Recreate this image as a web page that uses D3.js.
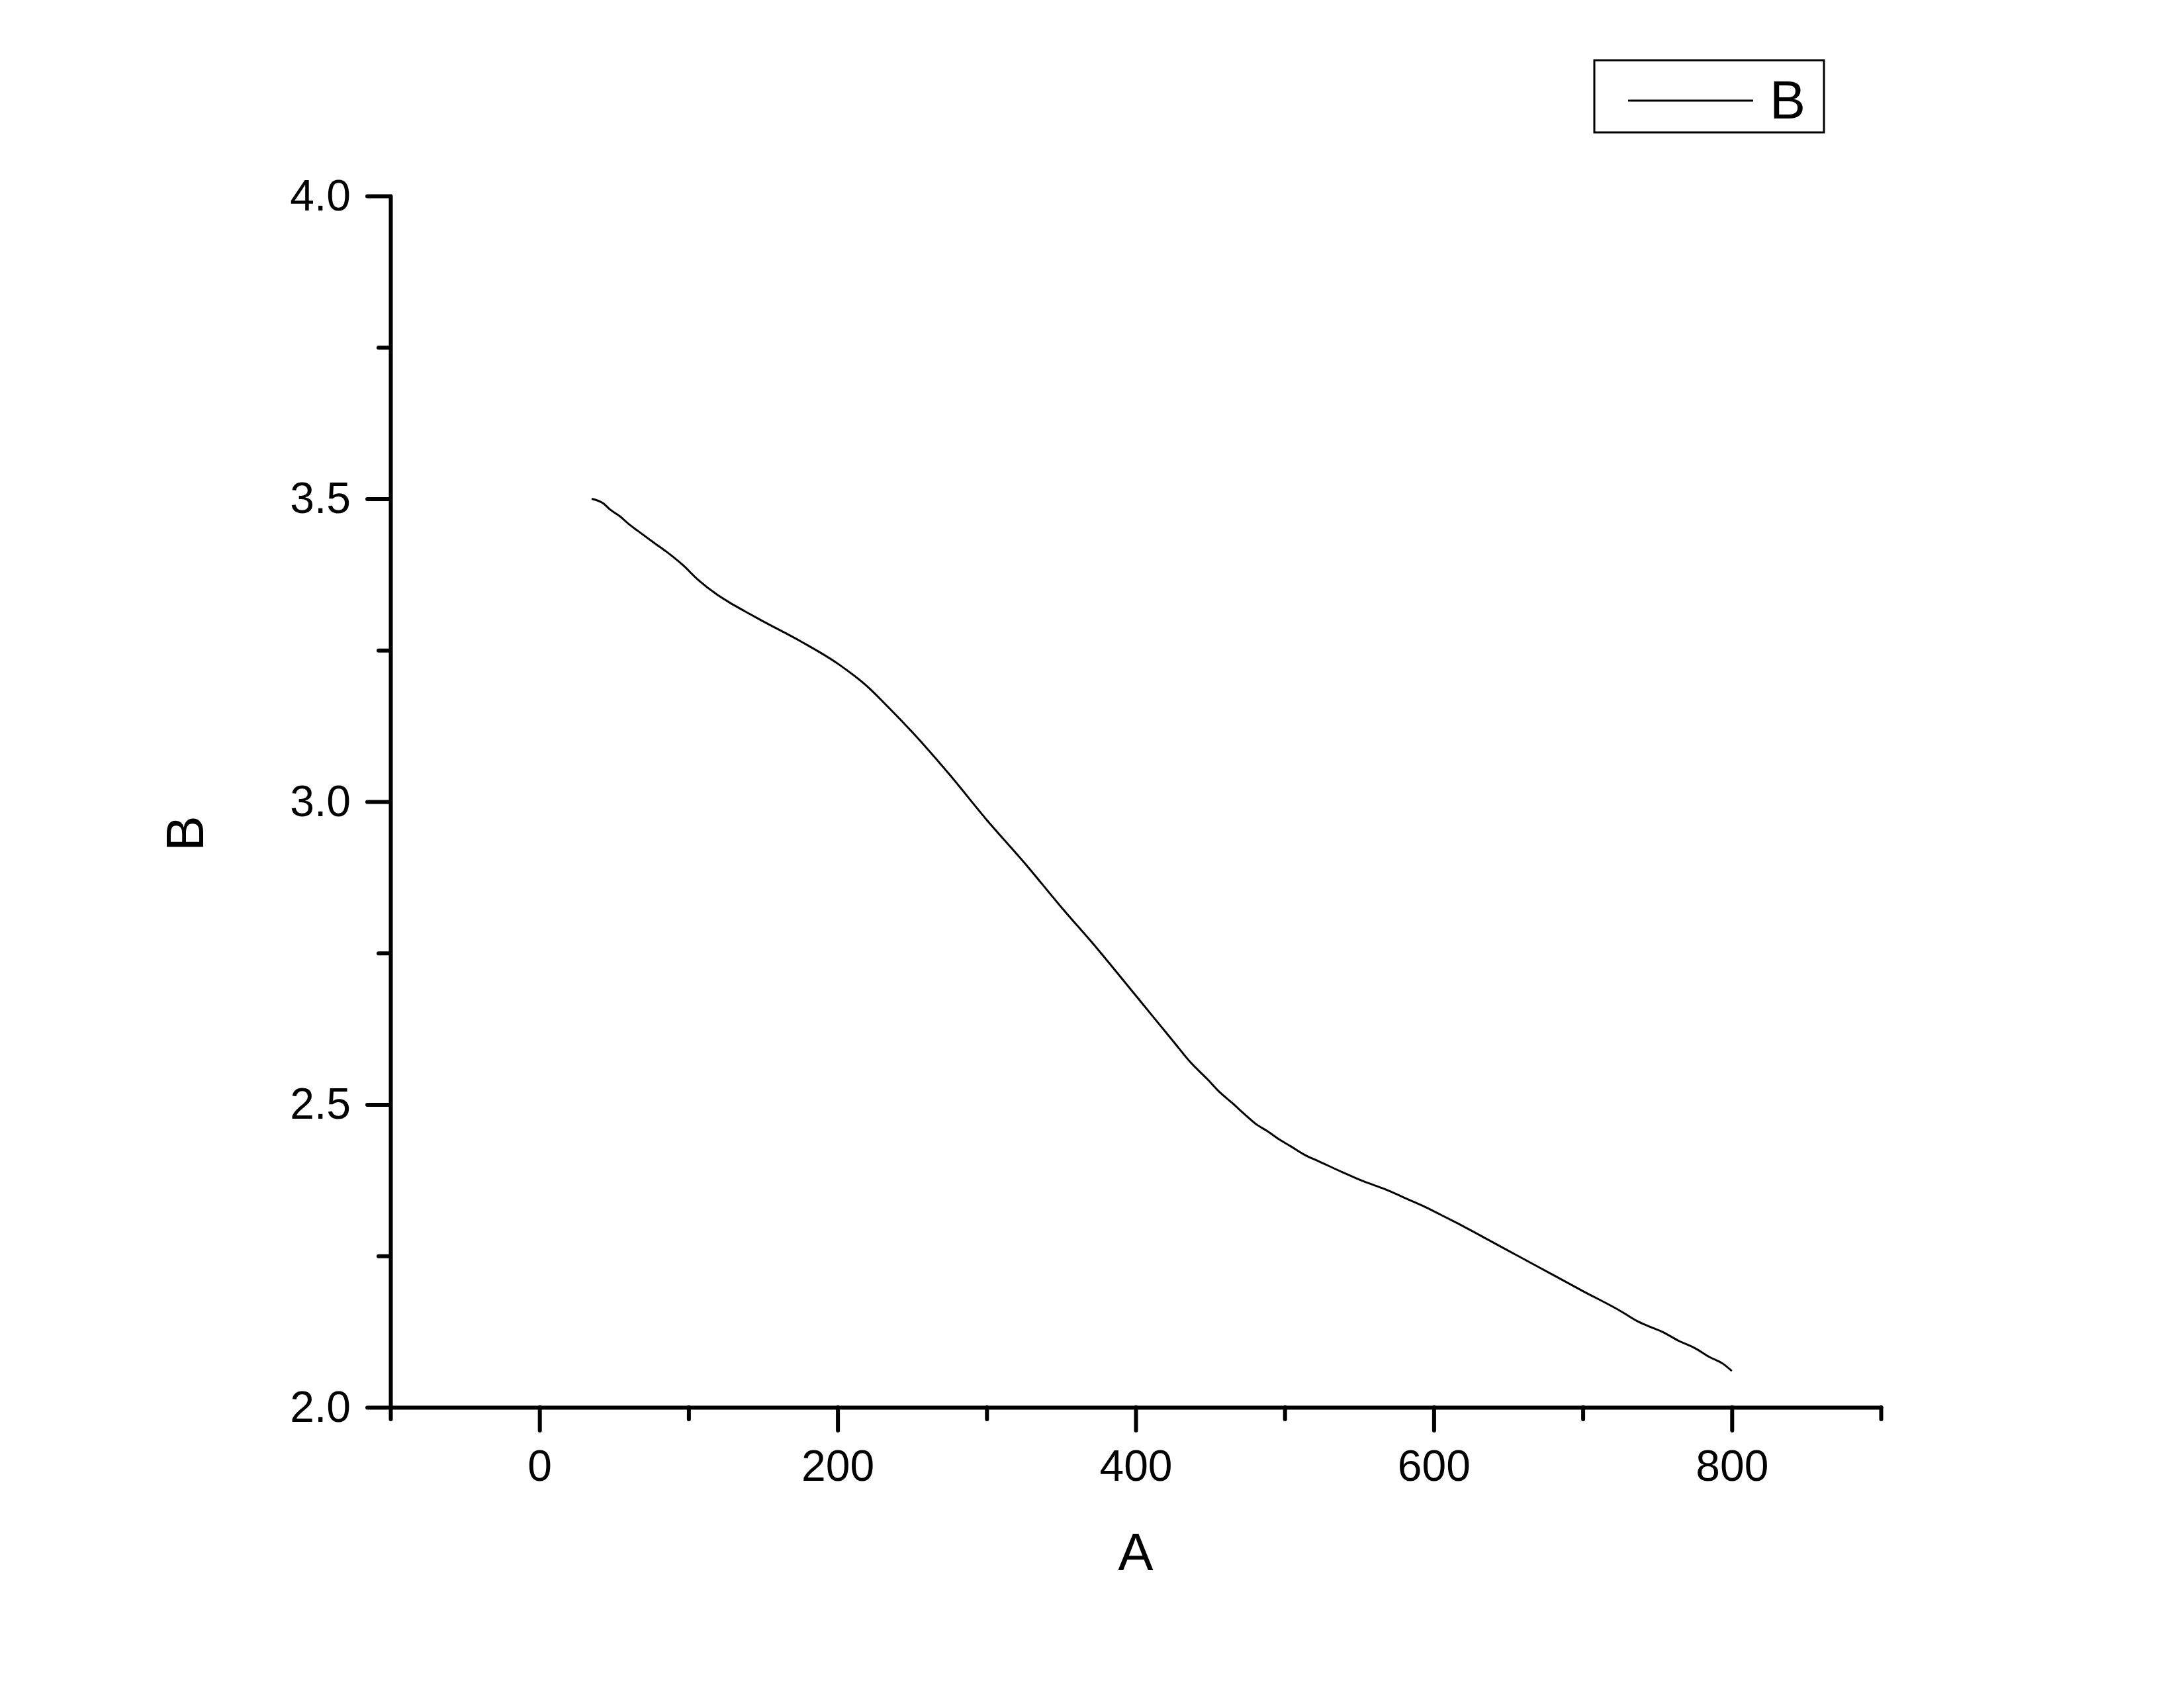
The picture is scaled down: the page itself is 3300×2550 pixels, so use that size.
<!DOCTYPE html>
<html>
<head>
<meta charset="utf-8">
<script src="https://cdn.jsdelivr.net/npm/d3@7/dist/d3.min.js"></script>
<style>
  html, body { margin: 0; padding: 0; background: #fff; }
  svg { display: block; }
  text { font-family: "Liberation Sans", Arial, sans-serif; fill: #000; }
</style>
</head>
<body>
<script>
// ---- data ----
const seriesName = "B";
const xLabel = "A";
const yLabel = "B";
const xValues = [35, 43, 47, 54, 60, 66.5, 77.6, 85, 96, 106.5, 119, 128, 138, 149, 175, 200, 220, 232, 250, 275, 300, 325, 350, 375, 400, 425, 437, 448, 456.5, 465, 473, 480, 489, 496.5, 504, 514, 523, 538, 553, 567.5, 584, 594, 604.6, 615, 640, 670, 700, 726, 736, 744, 753, 765, 775, 785, 794, 800];
const yValues = [3.500, 3.492, 3.483, 3.471, 3.458, 3.446, 3.426, 3.413, 3.391, 3.366, 3.342, 3.328, 3.314, 3.299, 3.265, 3.228, 3.19, 3.161, 3.115, 3.045, 2.97, 2.90, 2.826, 2.755, 2.68, 2.605, 2.569, 2.542, 2.520, 2.502, 2.484, 2.469, 2.455, 2.442, 2.431, 2.416, 2.406, 2.389, 2.373, 2.360, 2.342, 2.331, 2.318, 2.305, 2.272, 2.232, 2.192, 2.158, 2.143, 2.134, 2.125, 2.109, 2.098, 2.083, 2.072, 2.060];
const xDomain = [-100, 900];
const yDomain = [2.0, 4.0];
const xMajorTicks = [0, 200, 400, 600, 800];
const xMinorTicks = [-100, 100, 300, 500, 700, 900];
const yMajorTicks = [2.0, 2.5, 3.0, 3.5, 4.0];
const yMinorTicks = [2.25, 2.75, 3.25, 3.75];

// ---- layout ----
const W = 3300, H = 2550;
const plotL = 590, plotR = 2842, plotT = 296, plotB = 2126;

const svg = d3.select("body").append("svg")
  .attr("width", W).attr("height", H)
  .attr("viewBox", `0 0 ${W} ${H}`);

svg.append("rect").attr("width", W).attr("height", H).attr("fill", "#fff");

const x = d3.scaleLinear().domain(xDomain).range([plotL, plotR]);
const y = d3.scaleLinear().domain(yDomain).range([plotB, plotT]);

const axisStroke = 6;
const tickFont = 66;

function styleAxis(g) {
  g.selectAll("path.domain").attr("stroke", "#000").attr("stroke-width", axisStroke).attr("stroke-linecap", "round");
  g.selectAll(".tick line").attr("stroke", "#000").attr("stroke-width", axisStroke).attr("stroke-linecap", "round");
  g.selectAll(".tick text").attr("font-size", tickFont).attr("font-family", '"Liberation Sans", Arial, sans-serif').attr("fill", "#000");
}

// minor ticks
svg.append("g").attr("transform", `translate(0,${plotB})`)
  .call(d3.axisBottom(x).tickValues(xMinorTicks).tickSize(18).tickFormat(""))
  .call(g => g.select(".domain").remove())
  .call(styleAxis);
svg.append("g").attr("transform", `translate(${plotL},0)`)
  .call(d3.axisLeft(y).tickValues(yMinorTicks).tickSize(18).tickFormat(""))
  .call(g => g.select(".domain").remove())
  .call(styleAxis);

// major axes
svg.append("g").attr("transform", `translate(0,${plotB})`)
  .call(d3.axisBottom(x).tickValues(xMajorTicks).tickSize(35).tickSizeOuter(0).tickPadding(29).tickFormat(d3.format("d")))
  .call(styleAxis);
svg.append("g").attr("transform", `translate(${plotL},0)`)
  .call(d3.axisLeft(y).tickValues(yMajorTicks).tickSize(35).tickSizeOuter(0).tickPadding(25).tickFormat(d3.format(".1f")))
  .call(styleAxis);

// line
const pts = xValues.map((v, i) => [v, yValues[i]]);
svg.append("path")
  .datum(pts)
  .attr("fill", "none")
  .attr("stroke", "#000")
  .attr("stroke-width", 3)
  .attr("stroke-linejoin", "round")
  .attr("d", d3.line().x(d => x(d[0])).y(d => y(d[1])).curve(d3.curveMonotoneX));

// axis titles
svg.append("text")
  .attr("x", (plotL + plotR) / 2).attr("y", 2372)
  .attr("text-anchor", "middle")
  .attr("font-size", 80)
  .text(xLabel);
svg.append("text")
  .attr("transform", `translate(307,1259) rotate(-90)`)
  .attr("text-anchor", "middle")
  .attr("font-size", 80)
  .text(yLabel);

// legend
const lg = svg.append("g");
lg.append("rect")
  .attr("x", 2409).attr("y", 91).attr("width", 347).attr("height", 109)
  .attr("fill", "#fff").attr("stroke", "#000").attr("stroke-width", 3);
lg.append("line")
  .attr("x1", 2460).attr("x2", 2649).attr("y1", 152).attr("y2", 152)
  .attr("stroke", "#000").attr("stroke-width", 3);
lg.append("text")
  .attr("x", 2674).attr("y", 179)
  .attr("font-size", 81)
  .text(seriesName);
</script>
</body>
</html>
